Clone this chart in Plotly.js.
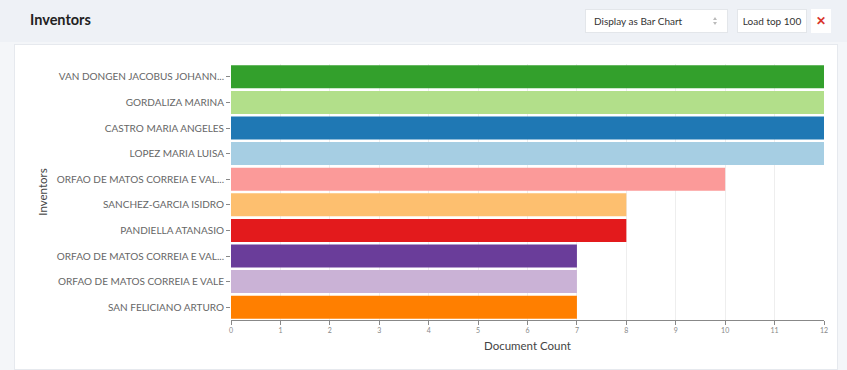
<!DOCTYPE html>
<html>
<head>
<meta charset="utf-8">
<script src="https://cdn.plot.ly/plotly-3.0.1.min.js"></script>
<style>
  html, body { margin:0; padding:0; width:847px; height:370px; overflow:hidden; background:#f4f6f9; font-family:"Lato","Open Sans",sans-serif; }
  #header { position:absolute; left:0; top:0; width:847px; height:42px; background:#eef1f6; }
  #title { position:absolute; left:30px; top:11px; font-size:14.5px; font-weight:bold; color:#222; }
  #sel { position:absolute; left:585px; top:9px; width:143px; height:24px; background:#fff; border:1px solid #e3e6ea; box-sizing:border-box; }
  #seltext { position:absolute; left:8px; top:0; font-size:10px; color:#333; line-height:22px; white-space:nowrap; }
  .arr { position:absolute; left:127px; width:0; height:0; border-left:2.5px solid transparent; border-right:2.5px solid transparent; }
  #up { top:7px; border-bottom:3px solid #bbb; }
  #down { top:12px; border-top:3px solid #bbb; }
  #load { position:absolute; left:737px; top:9px; width:70px; height:24px; background:#fff; border:1px solid #e3e6ea; box-sizing:border-box; font-size:10px; color:#333; line-height:22px; text-align:center; }
  #close { position:absolute; left:811px; top:9px; width:20px; height:24px; background:#fff; font-size:12px; font-weight:bold; color:#d9362b; line-height:23px; text-align:center; }
  #panel { position:absolute; left:14px; top:44px; width:824px; height:326px; background:#fff; border:1px solid #e6e9ee; box-sizing:border-box; }
  #chart { position:absolute; left:0; top:0; width:847px; height:370px; }
</style>
</head>
<body>
<div id="header">
  <div id="title">Inventors</div>
  <div id="sel"><span id="seltext">Display as Bar Chart</span><div class="arr" id="up"></div><div class="arr" id="down"></div></div>
  <div id="load">Load top 100</div>
  <div id="close">&#10005;</div>
</div>
<div id="panel"></div>
<div id="chart"></div>
<script>
const inventorLabels = [
  "VAN DONGEN JACOBUS JOHANN...",
  "GORDALIZA MARINA",
  "CASTRO MARIA ANGELES",
  "LOPEZ MARIA LUISA",
  "ORFAO DE MATOS CORREIA E VAL...",
  "SANCHEZ-GARCIA ISIDRO",
  "PANDIELLA ATANASIO",
  "ORFAO DE MATOS CORREIA E VAL...",
  "ORFAO DE MATOS CORREIA E VALE",
  "SAN FELICIANO ARTURO"
];
const documentCounts = [12, 12, 12, 12, 10, 8, 8, 7, 7, 7];
const barColors = ["#33a02c","#b2df8a","#1f78b4","#a6cee3","#fb9a99","#fdbf6f","#e31a1c","#6a3d9a","#cab2d6","#ff7f00"];
const xTicks = [0,1,2,3,4,5,6,7,8,9,10,11,12];

const positions = inventorLabels.map((_, i) => i);

const trace = {
  type: "bar",
  orientation: "h",
  x: documentCounts,
  y: positions,
  marker: { color: barColors },
  hoverinfo: "x+text",
  text: inventorLabels,
  textposition: "none"
};

const layout = {
  width: 847, height: 370,
  margin: { l: 231, r: 23, t: 64, b: 50, pad: 0 },
  paper_bgcolor: "rgba(0,0,0,0)",
  plot_bgcolor: "rgba(0,0,0,0)",
  bargap: 0.1,
  showlegend: false,
  font: { family: "Lato, Open Sans, sans-serif", color: "#555" },
  xaxis: {
    range: [0, 12],
    tickvals: xTicks,
    ticktext: xTicks.map(String),
    tickfont: { size: 7, color: "#888" },
    ticks: "outside", ticklen: 4, tickcolor: "#888",
    showline: true, linecolor: "#888", linewidth: 1,
    showgrid: true, gridcolor: "#eeeeee",
    zeroline: false,
    title: { text: "Document Count", font: { size: 11.5, color: "#444" }, standoff: 8 }
  },
  yaxis: {
    tickvals: positions,
    ticktext: inventorLabels,
    range: [9.5, -0.5],
    tickfont: { size: 10, color: "#666" },
    ticks: "outside", ticklen: 4, tickcolor: "#888",
    showline: false, showgrid: false, zeroline: false,
    title: { text: "Inventors", font: { size: 11.5, color: "#444" }, standoff: 6 }
  }
};

Plotly.newPlot("chart", [trace], layout, { displayModeBar: false, staticPlot: true });
</script>
</body>
</html>
